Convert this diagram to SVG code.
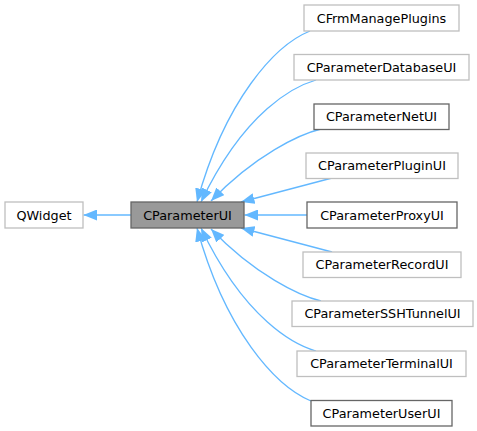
<svg xmlns="http://www.w3.org/2000/svg" width="477" height="431" viewBox="0 0 477 431">
<style>
.bg{fill:#ffffff}
.node rect{fill:#ffffff;stroke:#bfbfbf;stroke-width:1.3}
.node.doc rect{stroke:#666666}
.node.cur rect{fill:#999999;stroke:#666666}
.node text{font-family:"DejaVu Sans","Liberation Sans",sans-serif;font-size:12.8px;fill:#000000;text-anchor:middle}
.edges path{fill:none;stroke:#63b8ff;stroke-width:1.3}
</style>
<defs>
<marker id="ah" markerUnits="userSpaceOnUse" viewBox="0 0 13.5 11" refX="13.5" refY="5.5" markerWidth="13.5" markerHeight="11" orient="auto">
<path d="M0,0 L13.5,5.5 L0,11 z" fill="#63b8ff"/>
</marker>
</defs>
<rect class="bg" x="0" y="0" width="477" height="431"/>
<g class="edges">
<path d="M131,215 L83.5,215" marker-end="url(#ah)"/>
<path d="M310,31 C275,45 225,100 197,202" marker-end="url(#ah)"/>
<path d="M316,80 C295,86 245,110 201,202" marker-end="url(#ah)"/>
<path d="M321,129 C300,134 255,155 211,201" marker-end="url(#ah)"/>
<path d="M332,178 L241,202" marker-end="url(#ah)"/>
<path d="M307,215 L244.5,215" marker-end="url(#ah)"/>
<path d="M332,252 L241,228" marker-end="url(#ah)"/>
<path d="M321,301 C300,296 255,275 211,229" marker-end="url(#ah)"/>
<path d="M316,351 C295,345 245,320 201,228" marker-end="url(#ah)"/>
<path d="M311,401 C275,386 225,330 197,228" marker-end="url(#ah)"/>
</g>
<g id="node-QWidget" class="node"><rect x="5" y="202" width="78" height="26"/><text x="44" y="219.5">QWidget</text></g>
<g id="node-CParameterUI" class="node cur"><rect x="131" y="202" width="113" height="26"/><text x="187.5" y="219.5">CParameterUI</text></g>
<g id="node-CFrmManagePlugins" class="node"><rect x="304" y="5" width="155" height="26"/><text x="381.5" y="22.5">CFrmManagePlugins</text></g>
<g id="node-CParameterDatabaseUI" class="node"><rect x="294" y="54.5" width="175" height="25.5"/><text x="381.5" y="71.8">CParameterDatabaseUI</text></g>
<g id="node-CParameterNetUI" class="node doc"><rect x="314" y="104" width="135" height="25.5"/><text x="381.5" y="121.3">CParameterNetUI</text></g>
<g id="node-CParameterPluginUI" class="node"><rect x="306" y="153" width="152" height="25.5"/><text x="382" y="170.3">CParameterPluginUI</text></g>
<g id="node-CParameterProxyUI" class="node doc"><rect x="307" y="202" width="150" height="26"/><text x="382" y="219.5">CParameterProxyUI</text></g>
<g id="node-CParameterRecordUI" class="node"><rect x="303" y="252" width="158" height="25.5"/><text x="382" y="269.3">CParameterRecordUI</text></g>
<g id="node-CParameterSSHTunnelUI" class="node"><rect x="292" y="301" width="181" height="25.5"/><text x="382.5" y="318.3">CParameterSSHTunnelUI</text></g>
<g id="node-CParameterTerminalUI" class="node"><rect x="297" y="351" width="169" height="25.5"/><text x="381.5" y="368.3">CParameterTerminalUI</text></g>
<g id="node-CParameterUserUI" class="node doc"><rect x="311" y="400.5" width="141" height="25.5"/><text x="381.5" y="417.8">CParameterUserUI</text></g>
</svg>
